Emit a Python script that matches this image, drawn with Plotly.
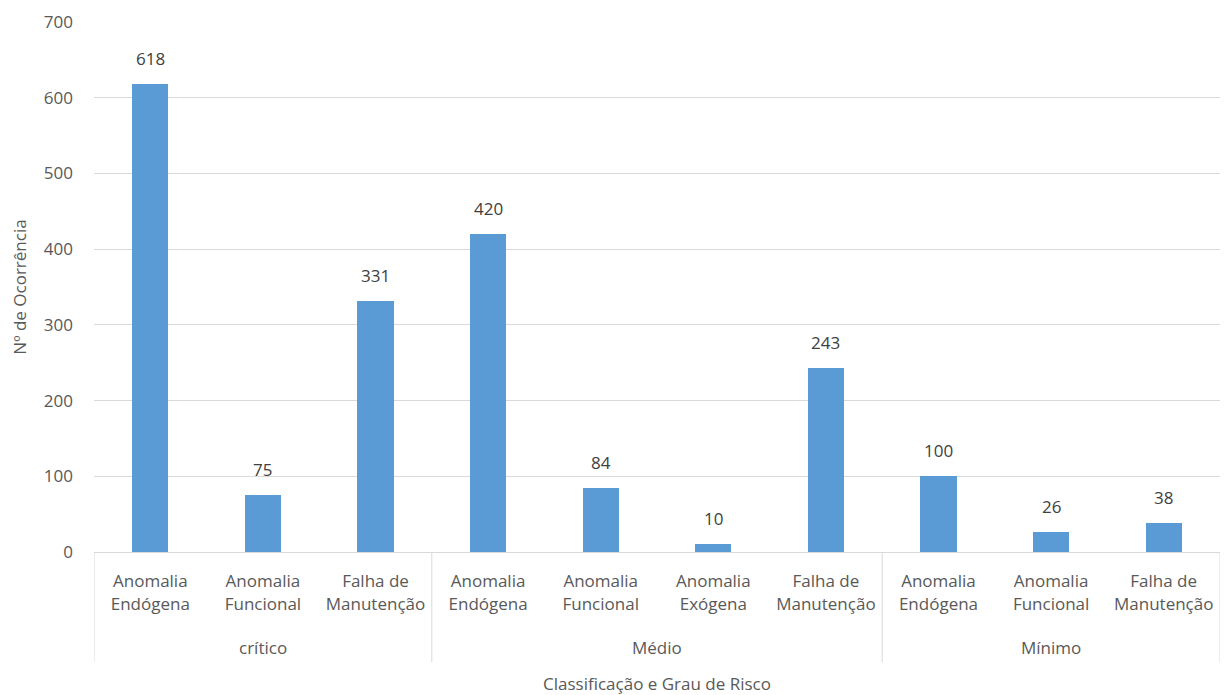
import plotly.graph_objects as go

# Risk class per bar, subcategory label per bar, and occurrence counts
groups = ["crítico", "crítico", "crítico",
          "Médio", "Médio", "Médio", "Médio",
          "Mínimo", "Mínimo", "Mínimo"]
subcats = ["Anomalia<br>Endógena", "Anomalia<br>Funcional", "Falha de<br>Manutenção",
           "Anomalia<br>Endógena", "Anomalia<br>Funcional", "Anomalia<br>Exógena", "Falha de<br>Manutenção",
           "Anomalia<br>Endógena", "Anomalia<br>Funcional", "Falha de<br>Manutenção"]
counts = [618, 75, 331, 420, 84, 10, 243, 100, 26, 38]

FONT = "Open Sans"
TXT = "#595959"
GRID = "#D9D9D9"
FS = 17

positions = list(range(len(counts)))

fig = go.Figure(go.Bar(
    x=positions, y=counts,
    marker=dict(color="#5B9BD5", line=dict(width=0)),
    width=0.32,
    hoverinfo="x+y",
))

annotations = []
# Value labels above each bar
for xi, v in zip(positions, counts):
    annotations.append(dict(x=xi, y=v, xref="x", yref="y", yshift=26,
                            text=str(v), showarrow=False,
                            font=dict(family=FONT, size=FS, color="#404040")))

# Group labels and dividers under the category axis
shapes = []
order = []
for g in groups:
    if g not in order:
        order.append(g)
bounds = [-0.5]
for g in order:
    idx = [i for i, gg in enumerate(groups) if gg == g]
    center = (idx[0] + idx[-1]) / 2
    annotations.append(dict(x=center, y=0, xref="x", yref="paper", yshift=-95,
                            yanchor="middle",
                            text=g, showarrow=False,
                            font=dict(family=FONT, size=FS, color=TXT)))
    bounds.append(idx[-1] + 0.5)
for b in bounds:
    shapes.append(dict(type="line", xref="x", yref="paper", x0=b, x1=b, y0=0, y1=-0.208,
                       line=dict(color=GRID, width=1)))

annotations.append(dict(x=0.5, y=0, xref="paper", yref="paper", yshift=-131,
                        yanchor="middle",
                        text="Classificação e Grau de Risco", showarrow=False,
                        font=dict(family=FONT, size=FS, color=TXT)))

fig.update_layout(
    width=1230, height=695,
    margin=dict(l=94, r=10, t=17, b=143),
    paper_bgcolor="white", plot_bgcolor="white",
    showlegend=False,
    bargap=0,
    xaxis=dict(
        range=[-0.5, len(counts) - 0.5],
        tickmode="array", tickvals=positions, ticktext=subcats,
        showgrid=False, zeroline=False,
        showline=True, linecolor=GRID, linewidth=1,
        ticks="", ticklabelstandoff=14,
        tickfont=dict(family=FONT, size=FS, color=TXT),
    ),
    yaxis=dict(
        range=[0, 700], dtick=100,
        showgrid=True, gridcolor=GRID, gridwidth=1,
        zeroline=False, showline=False,
        ticks="", ticklabelstandoff=20,
        tickfont=dict(family=FONT, size=FS, color=TXT),
        title=dict(text="Nº de Ocorrência", standoff=12,
                   font=dict(family=FONT, size=FS, color=TXT)),
    ),
    shapes=shapes,
    annotations=annotations,
)

fig.write_html("out.html")
